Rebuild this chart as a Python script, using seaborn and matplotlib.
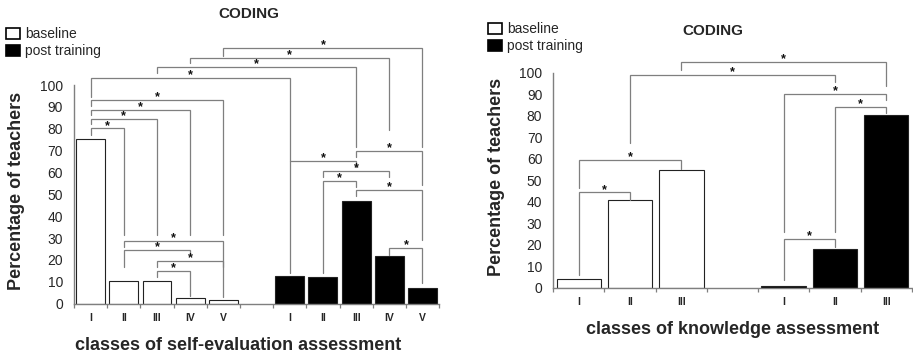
import numpy as np
import pandas as pd
import matplotlib
matplotlib.use('Agg')
import matplotlib.pyplot as plt
import seaborn as sns

sns.set_style('white')
plt.rcParams['font.family'] = ['Liberation Sans', 'DejaVu Sans']

# valori
classes_self = ['I', 'II', 'III', 'IV', 'V']
self_baseline = [75.5, 10.4, 10.4, 2.5, 1.5]
self_post = [12.7, 12.1, 46.8, 21.7, 7.0]

classes_know = ['I', 'II', 'III']
know_baseline = [4.2, 40.6, 54.7]
know_post = [0.8, 18.1, 80.3]

groups = ['baseline', 'post training']

# parentesi di significativita': (barra1, barra2, altezza, fine gamba1, fine gamba2)
brackets_self = [
    ('b_I', 'b_II', 80.2, 77.1, 31.4),
    ('b_I', 'b_III', 84.5, 82.0, 31.4),
    ('b_I', 'b_IV', 88.7, 86.3, 31.4),
    ('b_I', 'b_V', 93.1, 90.5, 31.4),
    ('b_II', 'b_V', 28.8, 26.1, 3.2),
    ('b_II', 'b_IV', 24.6, 16.9, 22.3),
    ('b_III', 'b_V', 19.5, 16.9, 17.0),
    ('b_III', 'b_IV', 15.1, 12.3, 3.5),
    ('b_I', 'p_I', 103.1, 94.7, 65.4),
    ('b_III', 'p_III', 108.2, 105.3, 71.8),
    ('b_IV', 'p_IV', 112.5, 109.9, 79.4),
    ('b_V', 'p_V', 117.1, 113.3, 71.8),
    ('p_I', 'p_III', 65.4, 14.0, 62.6),
    ('p_III', 'p_V', 70.0, 67.2, 54.3),
    ('p_II', 'p_IV', 60.7, 58.1, 58.1),
    ('p_II', 'p_III', 56.2, 14.0, 53.5),
    ('p_III', 'p_V', 52.0, 49.2, 29.1),
    ('p_IV', 'p_V', 25.5, 22.3, 9.3),
]

brackets_know = [
    ('b_I', 'b_II', 44.4, 5.9, 40.8),
    ('b_I', 'b_III', 59.4, 46.2, 55.1),
    ('b_II', 'p_II', 98.9, 67.4, 95.8),
    ('b_III', 'p_III', 105.1, 101.3, 93.8),
    ('p_I', 'p_III', 90.1, 26.0, 87.3),
    ('p_II', 'p_III', 84.2, 26.0, 81.1),
    ('p_I', 'p_II', 22.7, 3.6, 19.1),
]

GRAY = '#7f7f7f'


def make_frame(classes, base, post):
    kb = ['b_' + c for c in classes]
    kp = ['p_' + c for c in classes]
    df = pd.DataFrame({
        'slot': kb + kp,
        'value': base + post,
        'group': [groups[0]] * len(classes) + [groups[1]] * len(classes),
    })
    order = kb + ['gap'] + kp
    return df, order


def draw_panel(ax, classes, base, post, brackets, ytop):
    df, order = make_frame(classes, base, post)
    sns.barplot(data=df, x='slot', y='value', hue='group', order=order,
                hue_order=groups, palette={groups[0]: 'white', groups[1]: 'black'},
                edgecolor='#222222', linewidth=0.8, width=0.87, errorbar=None, ax=ax)
    pos = {k: i for i, k in enumerate(order)}
    for k1, k2, y, e1, e2 in brackets:
        x1, x2 = pos[k1], pos[k2]
        ax.plot([x1, x1, x2, x2], [e1, y, y, e2], color=GRAY, lw=0.9,
                clip_on=False, solid_joinstyle='miter')
        ax.text((x1 + x2) / 2, y + 1.2, '*', ha='center', va='center',
                fontsize=9, fontweight='bold', color='#111111')
    ax.set_xlim(-0.5, len(order) - 0.5)
    ax.set_ylim(0, ytop)
    ax.set_yticks(np.arange(0, 101, 10))
    ax.set_xticks(range(len(order)), classes + [''] + classes)
    ax.set_xticks(np.arange(-0.5, len(order)), minor=True)
    ax.tick_params(axis='x', which='major', length=0, pad=6.5, labelsize=7.5)
    ax.tick_params(axis='x', which='minor', length=3.2, width=0.9, color=GRAY, direction='out')
    ax.tick_params(axis='y', length=3.4, width=0.9, color=GRAY, direction='out',
                   pad=4.5, labelsize=10)
    ax.xaxis.set_tick_params(which='minor', bottom=True)
    for lab in ax.get_xticklabels():
        lab.set_fontweight('bold')
    sns.despine(ax=ax)
    ax.spines['left'].set_bounds(0, 100)
    for s in ['left', 'bottom']:
        ax.spines[s].set_color(GRAY)
        ax.spines[s].set_linewidth(1.0)
    ax.set_ylabel('Percentage of teachers', fontsize=13, fontweight='bold')
    h, l = ax.get_legend_handles_labels()
    ax.get_legend().remove()
    return h, l


fig = plt.figure(figsize=(9.13, 3.59), dpi=100)
ax1 = fig.add_axes([0.0811, 0.1540, 0.3998, 0.7624])
ax2 = fig.add_axes([0.6060, 0.1986, 0.3926, 0.7178])

h, l = draw_panel(ax1, classes_self, self_baseline, self_post, brackets_self, 125.15)
draw_panel(ax2, classes_know, know_baseline, know_post, brackets_know, 119.9)

ax1.set_xlabel('classes of self-evaluation assessment', fontsize=13, fontweight='bold')
ax2.set_xlabel('classes of knowledge assessment', fontsize=13, fontweight='bold')
ax1.xaxis.set_label_coords(0.4507, -0.153)
ax2.xaxis.set_label_coords(0.5, -0.163)
ax1.xaxis.label.set_va('center')
ax2.xaxis.label.set_va('center')
ax1.yaxis.set_label_coords(-0.134, 0.4136)
ax2.yaxis.set_label_coords(-0.135, 0.4315)

fig.text(249 / 913, 1 - 14 / 359, 'CODING', ha='center', va='center',
         fontsize=11, fontweight='bold')
fig.text(713 / 913, 1 - 31 / 359, 'CODING', ha='center', va='center',
         fontsize=11, fontweight='bold')

for handle in h:
    handle.set_edgecolor('black')
    handle.set_linewidth(1.2)

for x0, y0 in [(6 / 913, 1 - 27 / 359), (488 / 913, 1 - 22 / 359)]:
    fig.legend(h, l, loc='upper left', bbox_to_anchor=(x0, y0), frameon=False,
               fontsize=10, handlelength=1.0, handleheight=0.85, handletextpad=0.4,
               labelspacing=0.22, borderpad=0, borderaxespad=0)

fig.savefig('out.png', dpi=100)
